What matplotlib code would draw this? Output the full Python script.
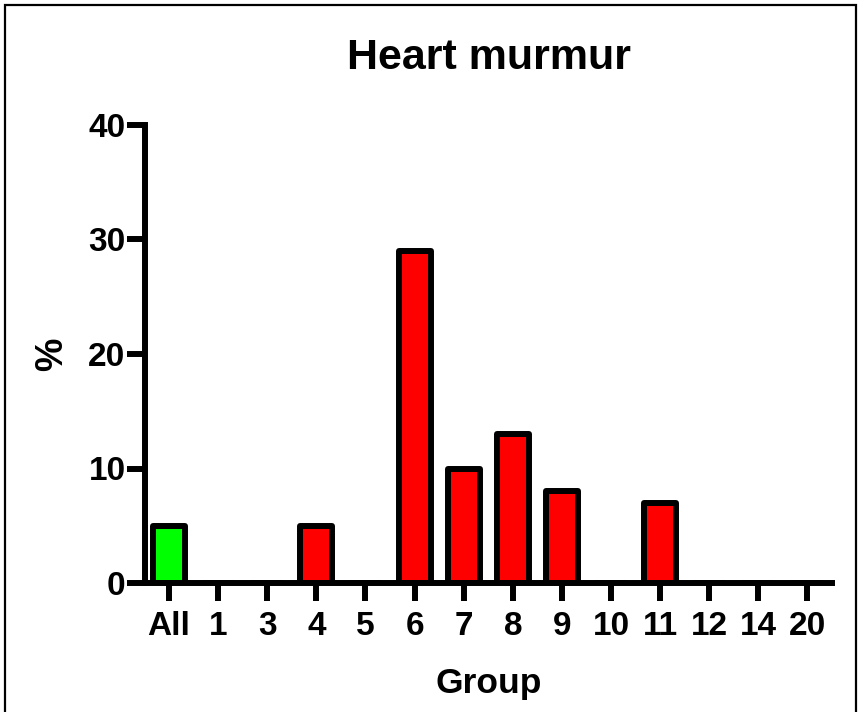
import matplotlib
matplotlib.use("Agg")
import matplotlib.pyplot as plt
from matplotlib.patches import Rectangle

# данные
groups = ["All", "1", "3", "4", "5", "6", "7", "8", "9", "10", "11", "12", "14", "20"]
values = [5, 0, 0, 5, 0, 29, 10, 13, 8, 0, 7, 0, 0, 0]
bar_colors = ["#00ff00"] + ["#ff0000"] * (len(groups) - 1)
y_ticks = [0, 10, 20, 30, 40]

plt.rcParams['font.family'] = ['Liberation Sans', 'DejaVu Sans']
plt.rcParams['font.weight'] = 'bold'

fig = plt.figure(figsize=(8.63, 7.12), dpi=100)
ax = fig.add_axes([145 / 863, 129 / 712, (832 - 145) / 863, (583 - 125) / 712])

x = list(range(len(groups)))
ax.bar(x, values, width=0.65, color=bar_colors, edgecolor="black",
       linewidth=4.3, joinstyle="round", zorder=3)

ax.set_xlim(-0.49, 13.5)
ax.set_ylim(0, 40)
ax.set_xticks(x)
ax.set_xticklabels(groups)
ax.set_yticks(y_ticks)

for side in ["top", "right"]:
    ax.spines[side].set_visible(False)
for side in ["left", "bottom"]:
    ax.spines[side].set_linewidth(4.3)
    ax.spines[side].set_capstyle("projecting")

ax.tick_params(axis="both", width=4.3, length=13, labelsize=24)
ax.tick_params(axis="x", pad=7)
ax.tick_params(axis="y", pad=1)
for lbl in ax.get_xticklabels() + ax.get_yticklabels():
    lbl.set_fontweight("bold")

ax.set_title("Heart murmur", fontsize=31, fontweight="bold", pad=40)
ax.set_xlabel("Group", fontsize=25.5, fontweight="bold", labelpad=18)
ax.set_ylabel("%", fontsize=27, fontweight="bold", labelpad=13)

# рамка вокруг рисунка
fig.patches.append(Rectangle((5 / 863, -0.05), (856 - 5) / 863, 1.05 - 5 / 712,
                             transform=fig.transFigure, fill=False,
                             edgecolor="black", linewidth=1.6))

fig.savefig("out.png", dpi=100)
